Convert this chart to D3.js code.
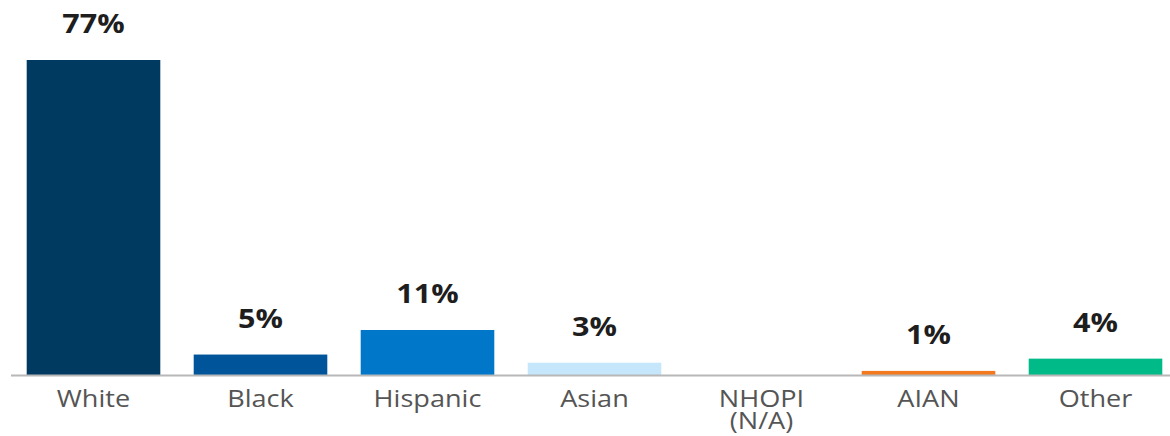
<!DOCTYPE html>
<html>
<head>
<meta charset="utf-8">
<script src="https://cdn.jsdelivr.net/npm/d3@7"></script>
<style>
  html, body { margin: 0; padding: 0; background: #fff; }
  svg { display: block; }
</style>
</head>
<body>
<svg id="chart" width="1170" height="436"></svg>
<script>
const categories = ["White", "Black", "Hispanic", "Asian", "NHOPI\n(N/A)", "AIAN", "Other"];
const values = [77, 5, 11, 3, null, 1, 4];
const valueLabels = ["77%", "5%", "11%", "3%", "", "1%", "4%"];
const colors = ["#003a60", "#00559a", "#0077c8", "#c5e6fb", "#cccccc", "#f2791e", "#00bb87"];

const svg = d3.select("#chart");
const baseline = 375;
const stretch = 1.13;

const x = d3.scaleBand()
  .domain(categories)
  .range([10, 1179])
  .paddingInner(0.2)
  .paddingOuter(0.1);

const y = d3.scaleLinear()
  .domain([0, 77])
  .range([baseline, 60]);

const data = categories.map((c, i) => ({ c, v: values[i], label: valueLabels[i], color: colors[i] }));

svg.selectAll("rect.bar")
  .data(data.filter(d => d.v != null))
  .join("rect")
  .attr("class", "bar")
  .attr("x", d => x(d.c))
  .attr("width", x.bandwidth())
  .attr("y", d => y(d.v))
  .attr("height", d => y(0) - y(d.v))
  .attr("fill", d => d.color);

// baseline axis line
svg.append("line")
  .attr("x1", 11).attr("x2", 1170)
  .attr("y1", baseline + 0.5).attr("y2", baseline + 0.5)
  .attr("stroke", "#b8b8b8")
  .attr("stroke-width", 2);

// value labels
svg.selectAll("text.val")
  .data(data.filter(d => d.v != null))
  .join("text")
  .attr("class", "val")
  .attr("transform", d => `translate(${x(d.c) + x.bandwidth() / 2},${y(d.v) - 27}) scale(${stretch},1)`)
  .attr("text-anchor", "middle")
  .attr("font-family", "'Open Sans', sans-serif")
  .attr("font-weight", 700)
  .attr("font-size", 27)
  .attr("fill", "#1e1e1e")
  .text(d => d.label);

// category labels
const cat = svg.selectAll("text.cat")
  .data(data)
  .join("text")
  .attr("class", "cat")
  .attr("transform", d => `translate(${x(d.c) + x.bandwidth() / 2},407) scale(${stretch},1)`)
  .attr("text-anchor", "middle")
  .attr("font-family", "'Open Sans', sans-serif")
  .attr("font-size", 24)
  .attr("fill", "#555555");

cat.each(function(d) {
  const lines = d.c.split("\n");
  const t = d3.select(this);
  lines.forEach((l, i) => {
    t.append("tspan")
      .attr("x", 0)
      .attr("dy", i === 0 ? 0 : 22)
      .text(l);
  });
});
</script>
</body>
</html>
